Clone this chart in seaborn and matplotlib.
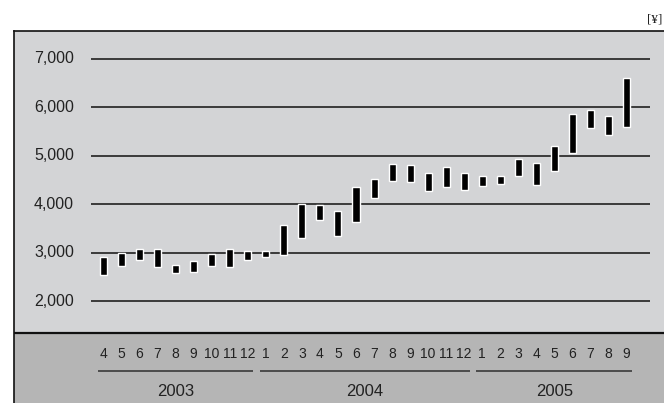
import seaborn as sns
import matplotlib.pyplot as plt
from matplotlib import font_manager

# monthly price range (low / high), Apr 2003 - Sep 2005
months = [4, 5, 6, 7, 8, 9, 10, 11, 12,
          1, 2, 3, 4, 5, 6, 7, 8, 9, 10, 11, 12,
          1, 2, 3, 4, 5, 6, 7, 8, 9]
years = ["2003", "2004", "2005"]
year_months = [9, 12, 9]
low = [2545, 2730, 2855, 2710, 2586, 2607, 2730, 2710, 2855,
       2917, 2960, 3304, 3668, 3344, 3628, 4134, 4478, 4457, 4275, 4356, 4296,
       4371, 4412, 4578, 4391, 4681, 5054, 5573, 5427, 5592]
high = [2911, 3000, 3077, 3077, 2745, 2830, 2973, 3077, 3035,
        3035, 3561, 4006, 3986, 3864, 4350, 4512, 4836, 4816, 4654, 4775, 4654,
        4592, 4592, 4944, 4841, 5193, 5855, 5938, 5814, 6600]
yticks = [2000, 3000, 4000, 5000, 6000, 7000]

sns.set_theme(style="white")
names = {f.name for f in font_manager.fontManager.ttflist}
narrow = "Liberation Sans Narrow" if "Liberation Sans Narrow" in names else "Liberation Sans"
plt.rcParams["font.family"] = [narrow, "DejaVu Sans"]

fig = plt.figure(figsize=(6.64, 4.03), dpi=100)
ax = fig.add_axes([14 / 664, 0, 1 - 14 / 664, 372 / 403])
ax.set_facecolor("#d3d4d6")
ax.set_xlim(-4.964, 31.08)
ax.set_ylim(-107, 7578)

# lower band for the month / year labels
ax.axhspan(-107, 1339, color="#b5b5b5", zorder=0)
ax.axhline(1339, color="#111111", lw=1.6, zorder=1)

for s in ["right", "bottom"]:
    ax.spines[s].set_visible(False)
for s in ["left", "top"]:
    ax.spines[s].set_color("#111111")
    ax.spines[s].set_linewidth(1.2)
ax.set_xticks([])
ax.set_yticks([])

# gridlines and y labels
ax.hlines(yticks, -0.71, 30.31, color="#3a3a3a", lw=1.4, zorder=1)
for t in yticks:
    ax.text(-1.64, t, f"{t:,}", ha="right", va="center", fontsize=11.5, color="#222222")

# floating bars
x = list(range(len(months)))
heights = [h - l for h, l in zip(high, low)]
ax.bar(x, heights, bottom=low, width=0.39, color="black", zorder=3)

# month labels
for i, m in enumerate(months):
    ax.text(i, 905, str(m), ha="center", va="center", fontsize=10, color="#222222")

# year labels with underlines
start = 0
for y, n in zip(years, year_months):
    end = start + n - 1
    ax.hlines(554, start - 0.32, end + 0.3, color="#444444", lw=1.3)
    ax.text((start + end) / 2, 140, y, ha="center", va="center", fontsize=12, color="#222222")
    start = end + 1

fig.text(0.997, 0.952, "[¥]", ha="right", va="center", fontsize=9.5,
         family=["Liberation Serif", "DejaVu Serif"], color="#222222")

fig.savefig("out.png", dpi=100, facecolor="white")
